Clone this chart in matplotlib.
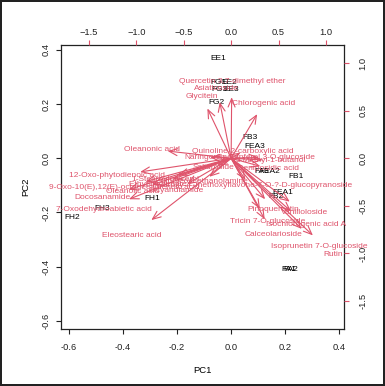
"""PCA biplot (scores in black, loadings as red arrows), redrawn from an R biplot()."""

import matplotlib
matplotlib.use("Agg")
import matplotlib.pyplot as plt

plt.rcParams["font.family"] = ["Liberation Sans", "DejaVu Sans"]

RED = "#DF536B"

# sample scores (PC1, PC2)
score_names = ["EE1", "FG1", "EE2", "FG3", "EE3", "FG2", "FB3", "FEA3", "FA3", "FEA2",
               "FB1", "FEA1", "FB2", "FH1", "FH3", "FH2", "FA1", "FA2"]
pc1 = [-0.049, -0.045, -0.008, -0.042, -0.001, -0.056, 0.069, 0.087, 0.113, 0.142,
       0.241, 0.192, 0.167, -0.293, -0.478, -0.588, 0.213, 0.220]
pc2 = [0.367, 0.278, 0.278, 0.252, 0.252, 0.207, 0.075, 0.044, -0.048, -0.048,
       -0.066, -0.125, -0.141, -0.149, -0.184, -0.220, -0.409, -0.409]

# variable loadings (scaled units of the top/right axes)
var_names = [
    "Quercetin 3,7-dimethyl ether", "Asiaticoside", "Glycitein", "Chlorogenic acid",
    "Oleanonic acid", "Quinoline-2-carboxylic acid", "Naringenin",
    "Kaempferol 3-O-glucoside", "3-Methyl-1-butanol", "Geniposidic acid", "Salidroside",
    "Linoleoyl ethanolamine", "5-Hydroxy-4'-methoxyflavone-7-O-?-D-glucopyranoside",
    "12-Oxo-phytodienoic acid", "9-Oxo-10(E),12(E)-octadecadienoic acid", "Docosanamide",
    "7-Oxodehydroabietic acid", "Eleostearic acid", "1-Stearoylglycerol",
    "Ethyl linolenate", "Oleanolic acid", "Dicyandiamide", "Pinoquercetin",
    "Vanilloloside", "Tricin 7-O-glucoside", "Isochlorogenic acid A", "Calceolarioside",
    "Isoprunetin 7-O-glucoside", "Rutin",
]
load1 = [0.007, -0.150, -0.313, 0.343, -0.837, 0.123, -0.276, 0.364, 0.416, 0.385, -0.182,
         -0.287, 0.190, -1.199, -1.126, -1.352, -1.346, -1.052, -0.696, -0.769, -1.042,
         -0.580, 0.448, 0.773, 0.380, 0.789, 0.443, 0.931, 1.078]
load2 = [0.802, 0.738, 0.654, 0.580, 0.095, 0.074, 0.011, 0.011, -0.021, -0.105, -0.095,
         -0.243, -0.285, -0.179, -0.306, -0.411, -0.538, -0.812, -0.222, -0.274, -0.348,
         -0.338, -0.538, -0.570, -0.665, -0.696, -0.802, -0.928, -1.013]

lim = (-0.63, 0.418)
ratio = 2.848  # loading axes / score axes

fig = plt.figure(figsize=(3.85, 3.86), dpi=100)
fig.patch.set_edgecolor("#222222")
fig.patch.set_linewidth(1.5)
pos = [61 / 385, 1 - 329 / 386, 283 / 385, 284 / 386]

ax = fig.add_axes(pos)
ax.set_xlim(lim)
ax.set_ylim(lim)
for n, x, y in zip(score_names, pc1, pc2):
    ax.text(x, y, n, ha="center", va="center", fontsize=6, color="black")
ax.set_xticks([-0.6, -0.4, -0.2, 0.0, 0.2, 0.4])
ax.set_yticks([-0.6, -0.4, -0.2, 0.0, 0.2, 0.4])
ax.set_xticklabels(["-0.6", "-0.4", "-0.2", "0.0", "0.2", "0.4"])
ax.set_yticklabels(["-0.6", "-0.4", "-0.2", "0.0", "0.2", "0.4"], rotation=90, va="center")
ax.tick_params(direction="out", length=3.6, width=0.8, labelsize=6.7, colors="#222222")
ax.tick_params(axis="x", pad=6.5)
ax.tick_params(axis="y", pad=4)
ax.set_xlabel("PC1", fontsize=6.8, labelpad=10)
ax.set_ylabel("PC2", fontsize=6.8, labelpad=8)
for s in ax.spines.values():
    s.set_linewidth(0.9)
    s.set_color("#222222")

# second coordinate system for the loadings
ax2 = fig.add_axes(pos, frameon=False)
ax2.set_xlim(lim[0] * ratio, lim[1] * ratio)
ax2.set_ylim(lim[0] * ratio, lim[1] * ratio)
ax2.xaxis.tick_top()
ax2.yaxis.tick_right()
ax2.set_xticks([-1.5, -1.0, -0.5, 0.0, 0.5, 1.0])
ax2.set_yticks([-1.5, -1.0, -0.5, 0.0, 0.5, 1.0])
ax2.set_yticklabels(["-1.5", "-1.0", "-0.5", "0.0", "0.5", "1.0"], rotation=90, va="center")
ax2.tick_params(direction="out", length=3.6, width=0.8, labelsize=6.7,
                color=RED, labelcolor="#222222")
ax2.tick_params(axis="x", pad=2.5)
ax2.tick_params(axis="y", pad=7)

for n, x, y in zip(var_names, load1, load2):
    ax2.annotate("", xy=(0.8 * x, 0.8 * y), xytext=(0, 0),
                 arrowprops=dict(arrowstyle="->,head_length=0.6,head_width=0.25",
                                 color=RED, lw=0.8, shrinkA=0, shrinkB=0))
for n, x, y in zip(var_names, load1, load2):
    ax2.text(x, y, n, ha="center", va="center", fontsize=6, color=RED, clip_on=False)

fig.savefig("out.png", dpi=100)
